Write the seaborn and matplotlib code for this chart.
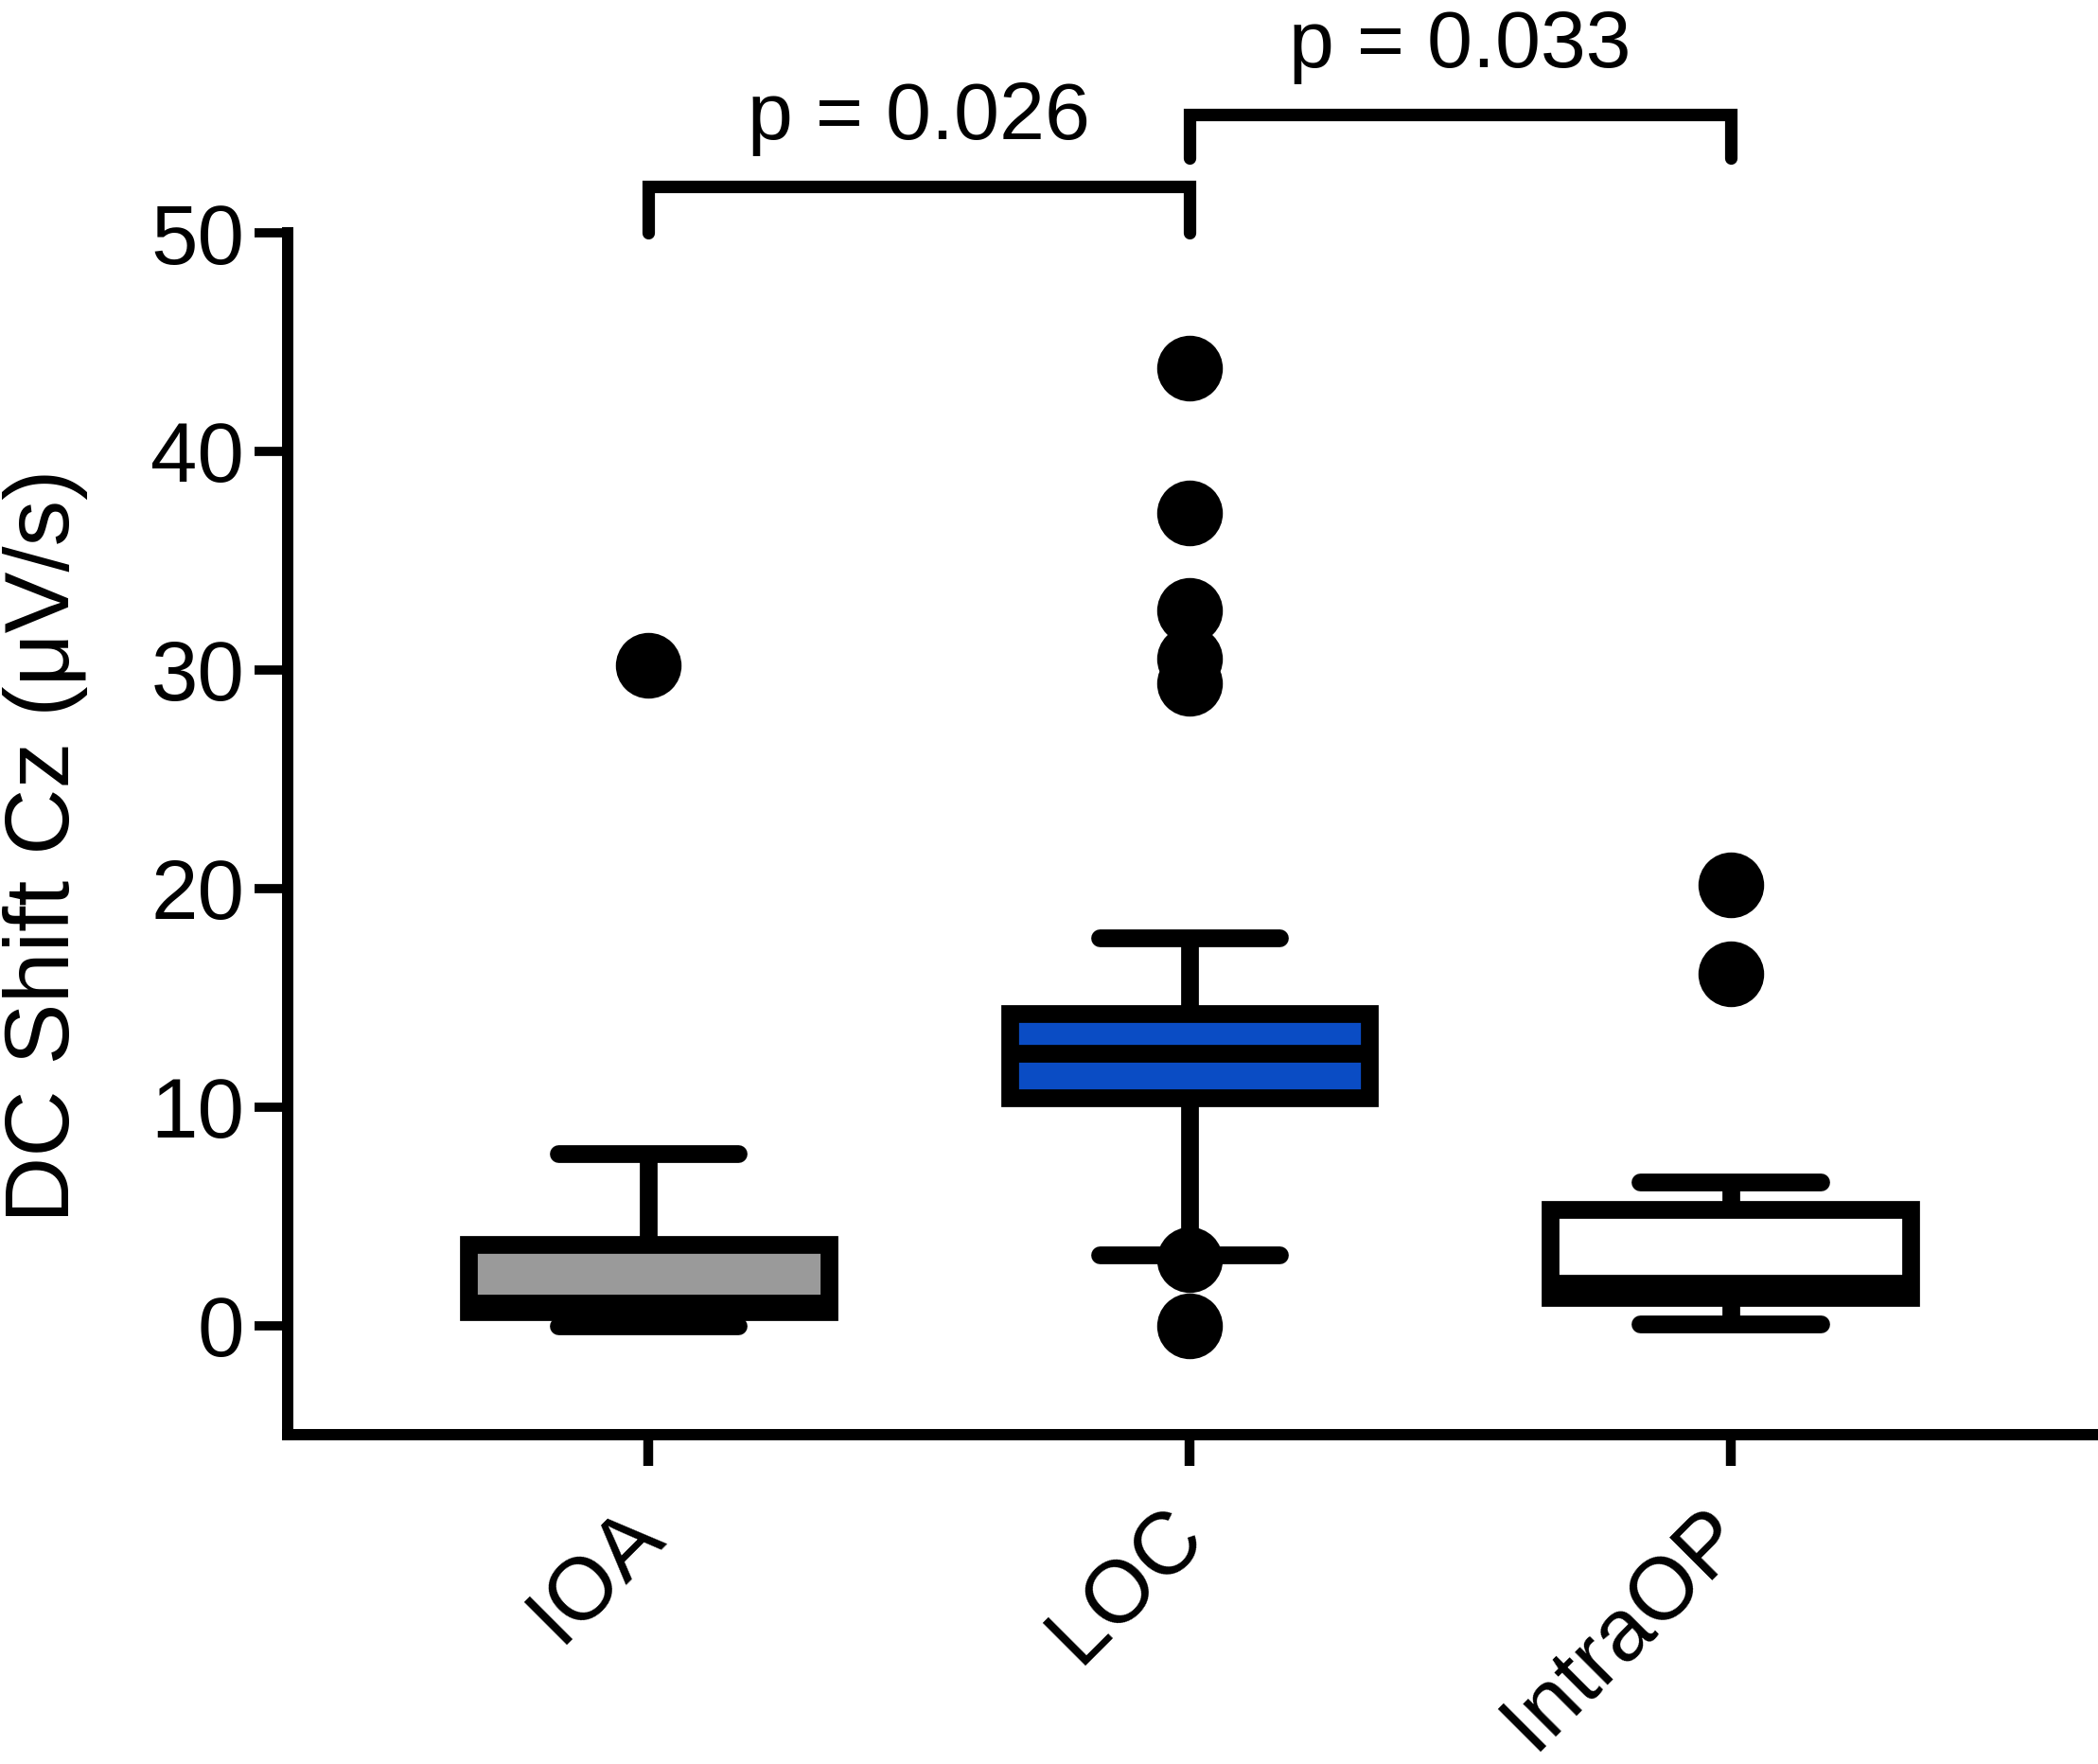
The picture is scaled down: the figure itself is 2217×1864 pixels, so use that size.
import numpy as np
import pandas as pd
import matplotlib
matplotlib.use("Agg")
import matplotlib.pyplot as plt
import matplotlib.transforms as mtransforms
import seaborn as sns

# Data (five-number summaries + outliers)
groups = ["IOA", "LOC", "IntraOP"]
box_colors = ["#9a9a9a", "#0a4cc4", "#ffffff"]
whisker_low = [0.0, 3.21, 0.05]
q1 = [0.64, 10.42, 1.29]
median = [1.02, 12.45, 1.91]
q3 = [3.71, 14.27, 5.32]
whisker_high = [7.87, 17.75, 6.57]

outlier_groups = ["IOA", "LOC", "LOC", "LOC", "LOC", "LOC", "LOC", "LOC", "IntraOP", "IntraOP"]
outlier_values = [30.2, 43.8, 37.2, 32.7, 30.5, 29.4, 3.0, 0.0, 20.15, 16.1]

comparisons = [("IOA", "LOC"), ("LOC", "IntraOP")]
p_labels = ["p = 0.026", "p = 0.033"]

# Style
sns.set_theme(style="ticks")
plt.rcParams["font.family"] = ["Liberation Sans", "DejaVu Sans"]
for key in ["axes.edgecolor", "xtick.color", "ytick.color", "text.color", "axes.labelcolor"]:
    plt.rcParams[key] = "black"

# each box from its 5 numbers; with whis=(0, 100) seaborn gives them back exactly
rows = []
for g, lo, a, m, b, hi in zip(groups, whisker_low, q1, median, q3, whisker_high):
    for v in (lo, a, m, b, hi):
        rows.append({"group": g, "value": v})
box_df = pd.DataFrame(rows)
out_df = pd.DataFrame({"group": outlier_groups, "value": outlier_values})

fig = plt.figure(figsize=(22.17, 18.64), dpi=100)
ax = fig.add_axes([304 / 2217, 1 - 1516 / 1864, (2212 - 304) / 2217, (1516 - 246) / 1864])

sns.boxplot(data=box_df, x="group", y="value", hue="group", order=groups, hue_order=groups,
            palette=box_colors, saturation=1, legend=False, width=0.665, linewidth=13.5,
            linecolor="black", whis=(0, 100), showfliers=False,
            capprops=dict(solid_capstyle="round"), ax=ax)
sns.stripplot(data=out_df, x="group", y="value", order=groups, jitter=False, color="black",
              size=50, linewidth=0, ax=ax, zorder=5)

# significance brackets
pos = {g: i for i, g in enumerate(groups)}
bracket_tops = [52.13, 55.42]
bracket_feet = [50.0, 53.4]
text_gap = 2.17
for (a, b), lab, top, foot in zip(comparisons, p_labels, bracket_tops, bracket_feet):
    x0, x1 = pos[a], pos[b]
    ax.plot([x0, x0, x1, x1], [foot, top, top, foot], color="black", lw=9.5, clip_on=False,
            solid_capstyle="round", solid_joinstyle="miter")
    ax.text((x0 + x1) / 2, top + text_gap, lab, ha="center", va="baseline",
            fontsize=62, clip_on=False)

# Axes
ax.set_xlim(-0.6675, 2.671)
ax.set_ylim(-5, 50)
ax.set_yticks([0, 10, 20, 30, 40, 50])
sns.despine(ax=ax)
for s in ["left", "bottom"]:
    ax.spines[s].set_linewidth(8.6)
ax.tick_params(axis="y", length=25, width=7, pad=8, labelsize=64)
ax.tick_params(axis="x", length=24, width=7.5, pad=54.5, labelsize=67)
ax.set_xlabel("")
ax.set_ylabel("DC Shift Cz (μV/s)", fontsize=70)
ax.yaxis.set_label_coords(-0.1105, 0.49)

shift = mtransforms.ScaledTranslation(0.18, 0, fig.dpi_scale_trans)
for lab in ax.get_xticklabels():
    lab.set_rotation(45)
    lab.set_ha("right")
    lab.set_va("baseline")
    lab.set_rotation_mode("anchor")
    lab.set_transform(lab.get_transform() + shift)

fig.savefig("out.png", dpi=100)
